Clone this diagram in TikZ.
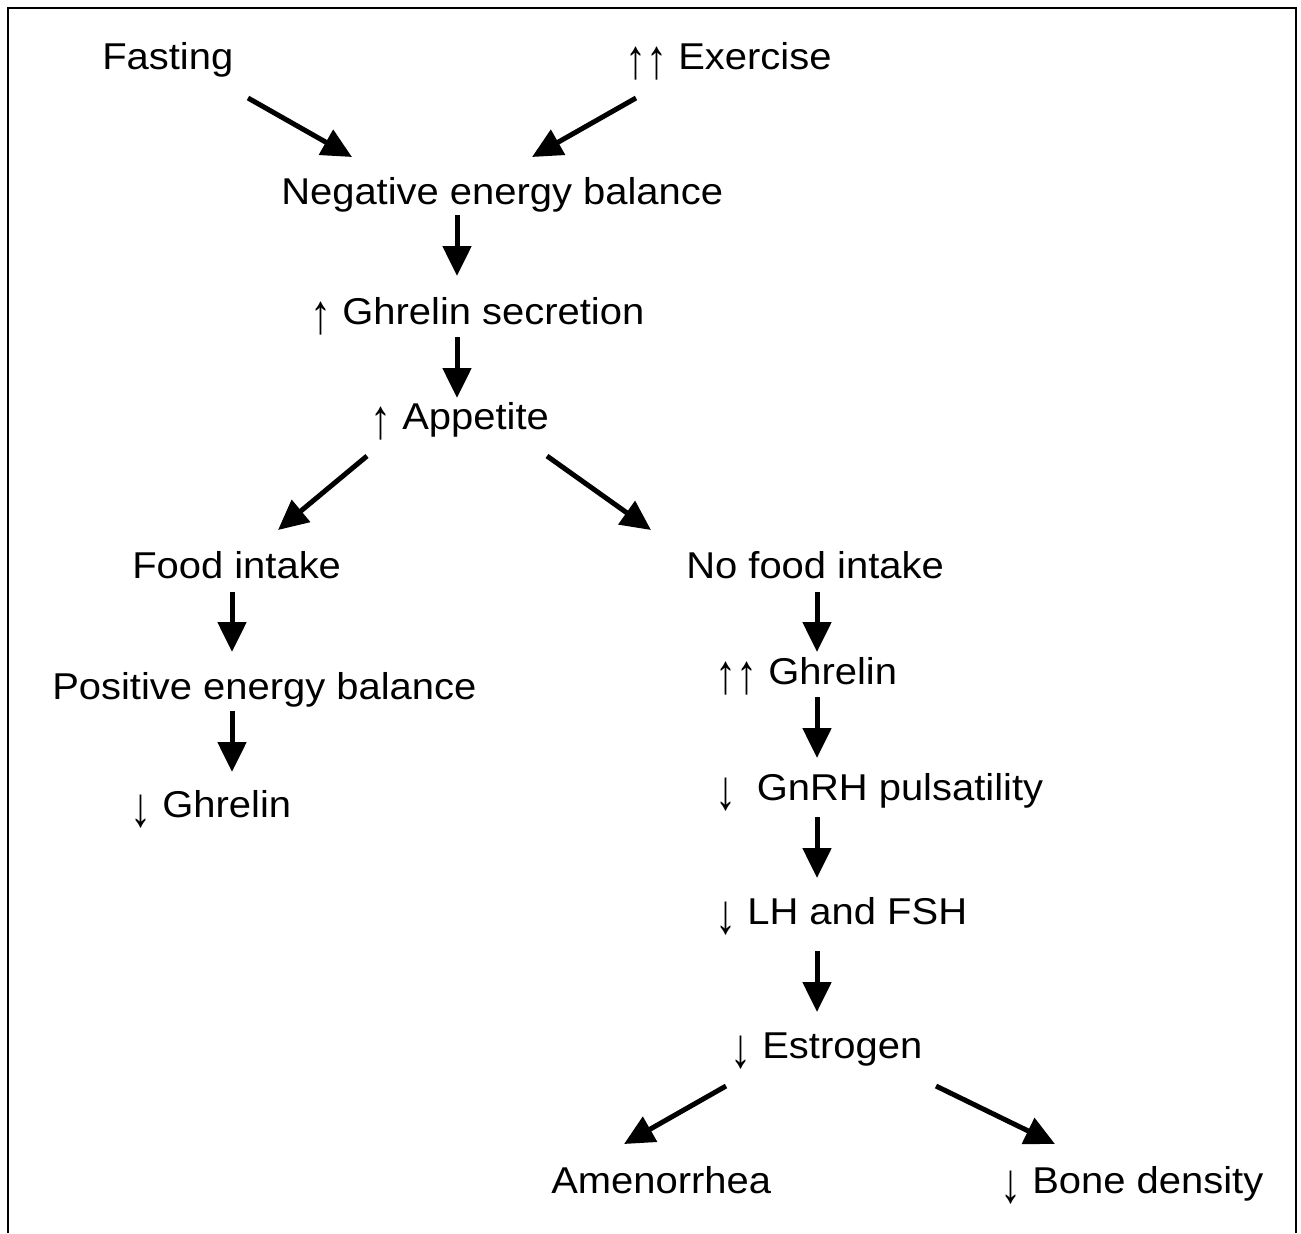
\documentclass[tikz,border=0pt]{standalone}
\usepackage{fontspec}
\setmainfont{Liberation Sans}[FakeStretch=1.07]
\usetikzlibrary{arrows.meta}
\newcommand\uarr{\raisebox{-0.26em}{\scalebox{1.05}[1.5]{↑}}}
\newcommand\darr{\raisebox{-0.26em}{\scalebox{1.05}[1.5]{↓}}}
\tikzset{
  lbl/.style={inner sep=0pt, font=\fontsize{28}{32}\selectfont, anchor=base west},
  arr/.style={line width=3.75pt, -{Triangle[length=22.5pt,width=21pt]}},
}
\begin{document}
\begin{tikzpicture}[x=0.75pt,y=-0.75pt]
\useasboundingbox (0,0) rectangle (1301,1233);
\draw[line width=1.5pt] (8,1233) -- (8,8) -- (1296,8) -- (1296,1233);
% nodes
\node[lbl] (fast) at (102,69) {Fasting};
\node[lbl] (exer) at (625,69) {\uarr\uarr\ Exercise};
\node[lbl] (neb) at (281,204) {Negative energy balance};
\node[lbl] (ghs) at (310,324) {\uarr\ Ghrelin secretion};
\node[lbl] (app) at (370,429) {\uarr\ Appetite};
\node[lbl] (food) at (132,578) {Food intake};
\node[lbl] (nofood) at (686,578) {No food intake};
\node[lbl] (peb) at (52,699) {Positive energy balance};
\node[lbl] (ghup) at (715,684) {\uarr\uarr\ Ghrelin};
\node[lbl] (ghdn) at (130,817) {\darr\ Ghrelin};
\node[lbl] (gnrh) at (715,800) {\darr\hspace{0.55em}GnRH pulsatility};
\node[lbl] (lh) at (715,924) {\darr\ LH and FSH};
\node[lbl] (estr) at (730,1058) {\darr\ Estrogen};
\node[lbl] (amen) at (551,1193) {Amenorrhea};
\node[lbl] (bone) at (1000,1193) {\darr\ Bone density};
% connector end points
\coordinate (a1s) at (248,98);  \coordinate (a1e) at (352,157);
\coordinate (a2s) at (636,98);  \coordinate (a2e) at (532,157);
\coordinate (a3s) at (457,215); \coordinate (a3e) at (457,276);
\coordinate (a4s) at (457,337); \coordinate (a4e) at (457,398);
\coordinate (a5s) at (367,456); \coordinate (a5e) at (278,530);
\coordinate (a6s) at (547,456); \coordinate (a6e) at (651,530);
\coordinate (a7s) at (232,592); \coordinate (a7e) at (232,652);
\coordinate (a8s) at (232,711); \coordinate (a8e) at (232,772);
\coordinate (a9s) at (817,592); \coordinate (a9e) at (817,652);
\coordinate (a10s) at (817,697); \coordinate (a10e) at (817,758);
\coordinate (a11s) at (817,817); \coordinate (a11e) at (817,878);
\coordinate (a12s) at (817,951); \coordinate (a12e) at (817,1012);
\coordinate (a13s) at (726,1086); \coordinate (a13e) at (624,1144);
\coordinate (a14s) at (936,1086); \coordinate (a14e) at (1055,1144);
\draw[arr] (a1s) -- (a1e);
\draw[arr] (a2s) -- (a2e);
\draw[arr] (a3s) -- (a3e);
\draw[arr] (a4s) -- (a4e);
\draw[arr] (a5s) -- (a5e);
\draw[arr] (a6s) -- (a6e);
\draw[arr] (a7s) -- (a7e);
\draw[arr] (a8s) -- (a8e);
\draw[arr] (a9s) -- (a9e);
\draw[arr] (a10s) -- (a10e);
\draw[arr] (a11s) -- (a11e);
\draw[arr] (a12s) -- (a12e);
\draw[arr] (a13s) -- (a13e);
\draw[arr] (a14s) -- (a14e);
\end{tikzpicture}
\end{document}
